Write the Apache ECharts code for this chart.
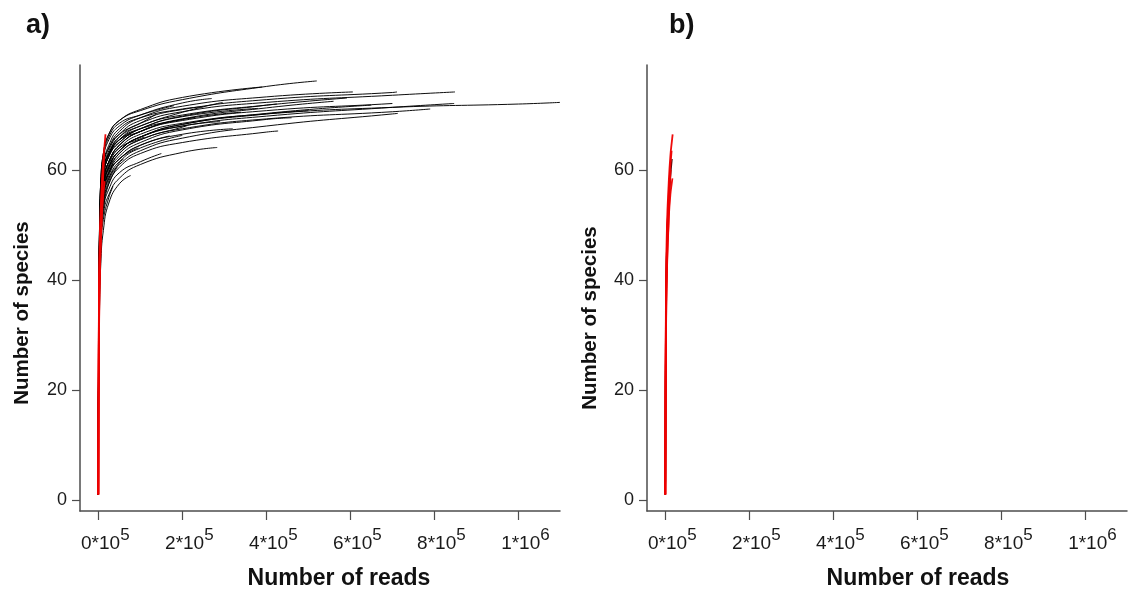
<!DOCTYPE html>
<html>
<head>
<meta charset="utf-8">
<script src="https://cdn.jsdelivr.net/npm/echarts@6/dist/echarts.min.js"></script>
<style>
html,body{margin:0;padding:0;background:#fff;overflow:hidden;}
#c{width:1129px;height:592px;}
</style>
</head>
<body>
<div id="c"></div>
<script>
// ---------------- DATA ----------------
const xTickValues = [0, 200000, 400000, 600000, 800000, 1000000];
const xTickLabels = ['0*10^5', '2*10^5', '4*10^5', '6*10^5', '8*10^5', '1*10^6'];
const yTickValues = [0, 20, 40, 60];

// rarefaction sampling depths (reads) for black curves of panel a
const readsGrid = [0, 1000, 3000, 6000, 12000, 25000, 50000, 100000, 200000, 400000, 700000, 1000000];
// species counts at readsGrid (truncated where a sample ends)
const blackSpeciesA = [
  [1,30,44,52,57,61,64,66.5,68.5,70.2,71.4,72.0],
  [1,33,47,55,60,63,66,68.5,70.6,72.3,73.6],
  [1,30,44,52,57,60.5,63.5,66,68,69.8,71.4],
  [1,32,47,55,60,63.5,66.5,69,71,72.8,74.1],
  [1,34,48,56,61,64,67,69.5,71.6,73.3],
  [1,35,50,58,63,66.5,69,70.8,72.8,75.2],
  [1,36,50,58,63,66.5,69,71,73.2],
  [1,32,46,54,59,62.5,65.5,68,70,71.8],
  [1,31,45,53,58,61.5,64.5,67,69,70.8,72.1],
  [1,29,43,51,56,60,63,65.5,67.5,69.3,70.6],
  [1,28,42,50,55,58.5,61,63.5,65.8,68,70.2],
  [1,32,46,54,59,62.5,65,67.5,69.8,71.8],
  [1,33,47,55,60,63,66,68,70.5],
  [1,28,41,49,54,57.5,60.5,63,65,66.9],
  [1,26,39,47,52,55.5,58.5,61,63.2],
  [1,22,35,43,49,54,57.5],
  [1,35,48,56,61,64,66.5,68.5],
  [1,30,43,51,56,59.5,62,64.5],
  [1,31,44,52,57,60.5,63.5,66,68],
  [1,31,45,53,58,61.5,64.5,67,69.2],
  [1,34,48,56,61,64.5,67.5,69.5,71.1],
  [1,29,42,50,55,58.5,61.5,64],
  [1,30,43,51,56,59.5,62.5,65,67.3,69.2],
  [1,31,45,53,58,61.5,64.5,67,69.3,71.3],
  [1,33,47,55,60,63,65.5,67],
  [1,29,42,50,55,59,62],
  [1,28,41,49,54,58,61.3],
  [1,27,40,48,53,56.5,59.5,61.5],
  [1,32,46,54,59,62.5,65,67.5,69.7],
  [1,29,43,51,56,59.5,62,64.5,66.5],
  [1,33,46,54,59,62.5,65.5,67.5,69.2],
  [1,27,40,48,53,57.5],
  [1,36,50,58,62.5,66,68.5,70],
  [1,30,44,52,57,60.5,63.5,66,68.3,70.3],
  [1,30,44,52,57,60.5,63.5,66,68.3,70.2],
  [1,35,49,57,62,65.5,68,70,72.2],
  [1,31,45,53,58,61.5,64,65.7],
  [1,25,38,46,51,55],
  [1,34,47,55,60,63,65.5],
  [1,30,43,51,56,59.5,63,65.5,67.8]
];
// final [reads, species] of each black curve
const blackEndsA = [
  [1099000,72.3],[849000,74.2],[847000,72.1],[711000,74.2],[606000,74.2],
  [520000,76.2],[390000,75.1],[592000,73.1],[701000,72.2],[790000,71.1],
  [713000,70.3],[425000,72.0],[296000,72.3],[428000,67.1],[283000,64.1],
  [77000,59],[139000,70.2],[170000,66.2],[290000,68.8],[340000,70.5],
  [250000,71.5],[200000,66.3],[460000,69.5],[560000,72.5],[120000,67.7],
  [95000,64],[60000,62],[150000,63],[380000,71.2],[320000,67.5],
  [230000,69.5],[45000,60.5],[180000,71.7],[650000,71.8],[500000,70.8],
  [270000,73.0],[110000,66],[35000,57],[85000,67],[210000,68]
];

// sampling depths for the short (red / dark) curves
const smallReadsGrid = [0, 500, 1000, 2000, 4000, 8000, 12000, 16000];
const redSpeciesA = [
  [1,18,28,39,49,57,62,65.5],
  [1,15,24,34,43,51,55.5],
  [1,17,27,37,47,55],
  [1,14,23,33,42,51],
  [1,16,26,36,46,54,59.5]
];
const redEndsA = [[17000,66.5],[15000,58],[12000,61.5],[9000,55],[14000,63]];

const darkSpeciesB = [
  [1,18,27],
  [1,16,26,37,47,54],
  [1,15,25,35,45,53,58.5],
  [1,17,28,39,48]
];
const darkEndsB = [[1500,31],[9000,57],[16000,62],[6000,52]];

const redSpeciesB = [
  [1,19,29,40,50,57.5,62.5,65.5],
  [1,15,24,34,43,51,55.5,58],
  [1,16,26,36,46,54,59],
  [1,14,23,33,42,51],
  [1,17,27,37,47,55,60.5]
];
const redEndsB = [[17500,66.5],[17000,58.5],[13000,60],[10000,56],[15000,63.5]];

// ---------------- BUILD ----------------
const FONT = '"Liberation Sans", Arial, Helvetica, sans-serif';
const AXIS_COLOR = '#4d4d4d';
const X_MIN = -43600, X_MAX = 1099000;
const Y_MIN = -2, Y_MAX = 79.1;

function curves(grid, species, ends, xi, color, width) {
  return species.map((vals, i) => ({
    type: 'line',
    xAxisIndex: xi, yAxisIndex: xi,
    showSymbol: false, symbol: 'none',
    smooth: 0.5,
    silent: true, animation: false,
    clip: true,
    lineStyle: { color: color, width: width, opacity: 0.95 },
    data: vals.map((v, j) => [grid[j], v]).concat([ends[i]])
  }));
}

function xAxis(gi) {
  return {
    type: 'value', gridIndex: gi, min: X_MIN, max: X_MAX,
    axisLine: { show: true, onZero: false, lineStyle: { color: AXIS_COLOR, width: 1.5 } },
    axisTick: { show: true, length: 9, customValues: xTickValues, lineStyle: { color: AXIS_COLOR, width: 1.2 } },
    splitLine: { show: false },
    axisLabel: {
      customValues: xTickValues,
      margin: 16,
      padding: [0, 0, 0, 14],
      formatter: function (v) {
        const idx = xTickValues.indexOf(v);
        const parts = xTickLabels[idx].split('^');
        return '{b|' + parts[0] + '}{s|' + parts[1] + '}';
      },
      rich: {
        b: { fontFamily: FONT, fontSize: 19, color: '#1a1a1a', verticalAlign: 'bottom', lineHeight: 26 },
        s: { fontFamily: FONT, fontSize: 17, color: '#1a1a1a', verticalAlign: 'top', padding: [0, 0, 7, 0], lineHeight: 26 }
      }
    }
  };
}
function yAxis(gi) {
  return {
    type: 'value', gridIndex: gi, min: Y_MIN, max: Y_MAX,
    axisLine: { show: true, onZero: false, lineStyle: { color: AXIS_COLOR, width: 1.5 } },
    axisTick: { show: true, length: 8, customValues: yTickValues, lineStyle: { color: AXIS_COLOR, width: 1.2 } },
    splitLine: { show: false },
    axisLabel: { customValues: yTickValues, margin: 13, fontFamily: FONT, fontSize: 18, color: '#1a1a1a' }
  };
}

const series = []
  .concat(curves(readsGrid, blackSpeciesA, blackEndsA, 0, '#000000', 1))
  .concat(curves(smallReadsGrid, redSpeciesA, redEndsA, 0, '#ee0000', 1.8))
  .concat(curves(smallReadsGrid, darkSpeciesB, darkEndsB, 1, '#2a0000', 1.4))
  .concat(curves(smallReadsGrid, redSpeciesB, redEndsB, 1, '#ee0000', 1.8));

const xTitle = { fontFamily: FONT, fontSize: 23, fontWeight: 'bold', fill: '#111' };
const yTitle = { fontFamily: FONT, fontSize: 20.5, fontWeight: 'bold', fill: '#111' };

const option = {
  animation: false,
  backgroundColor: '#ffffff',
  grid: [
    { left: 80, top: 65, width: 480, height: 446 },
    { left: 647, top: 65, width: 480, height: 446 }
  ],
  xAxis: [xAxis(0), xAxis(1)],
  yAxis: [yAxis(0), yAxis(1)],
  series: series,
  graphic: [
    { type: 'text', left: 26, top: 12, style: { text: 'a)', fontFamily: FONT, fontSize: 27, fontWeight: 'bold', fill: '#111' } },
    { type: 'text', left: 669, top: 12, style: { text: 'b)', fontFamily: FONT, fontSize: 27, fontWeight: 'bold', fill: '#111' } },
    { type: 'text', x: 339, y: 579, style: Object.assign({ text: 'Number of reads', align: 'center', verticalAlign: 'middle' }, xTitle) },
    { type: 'text', x: 918, y: 579, style: Object.assign({ text: 'Number of reads', align: 'center', verticalAlign: 'middle' }, xTitle) },
    { type: 'text', x: 22, y: 313, rotation: Math.PI / 2, style: Object.assign({ text: 'Number of species', align: 'center', verticalAlign: 'middle' }, yTitle) },
    { type: 'text', x: 590, y: 318, rotation: Math.PI / 2, style: Object.assign({ text: 'Number of species', align: 'center', verticalAlign: 'middle' }, yTitle) }
  ]
};

const chart = echarts.init(document.getElementById('c'), null, { renderer: 'canvas' });
chart.setOption(option);
</script>
</body>
</html>
